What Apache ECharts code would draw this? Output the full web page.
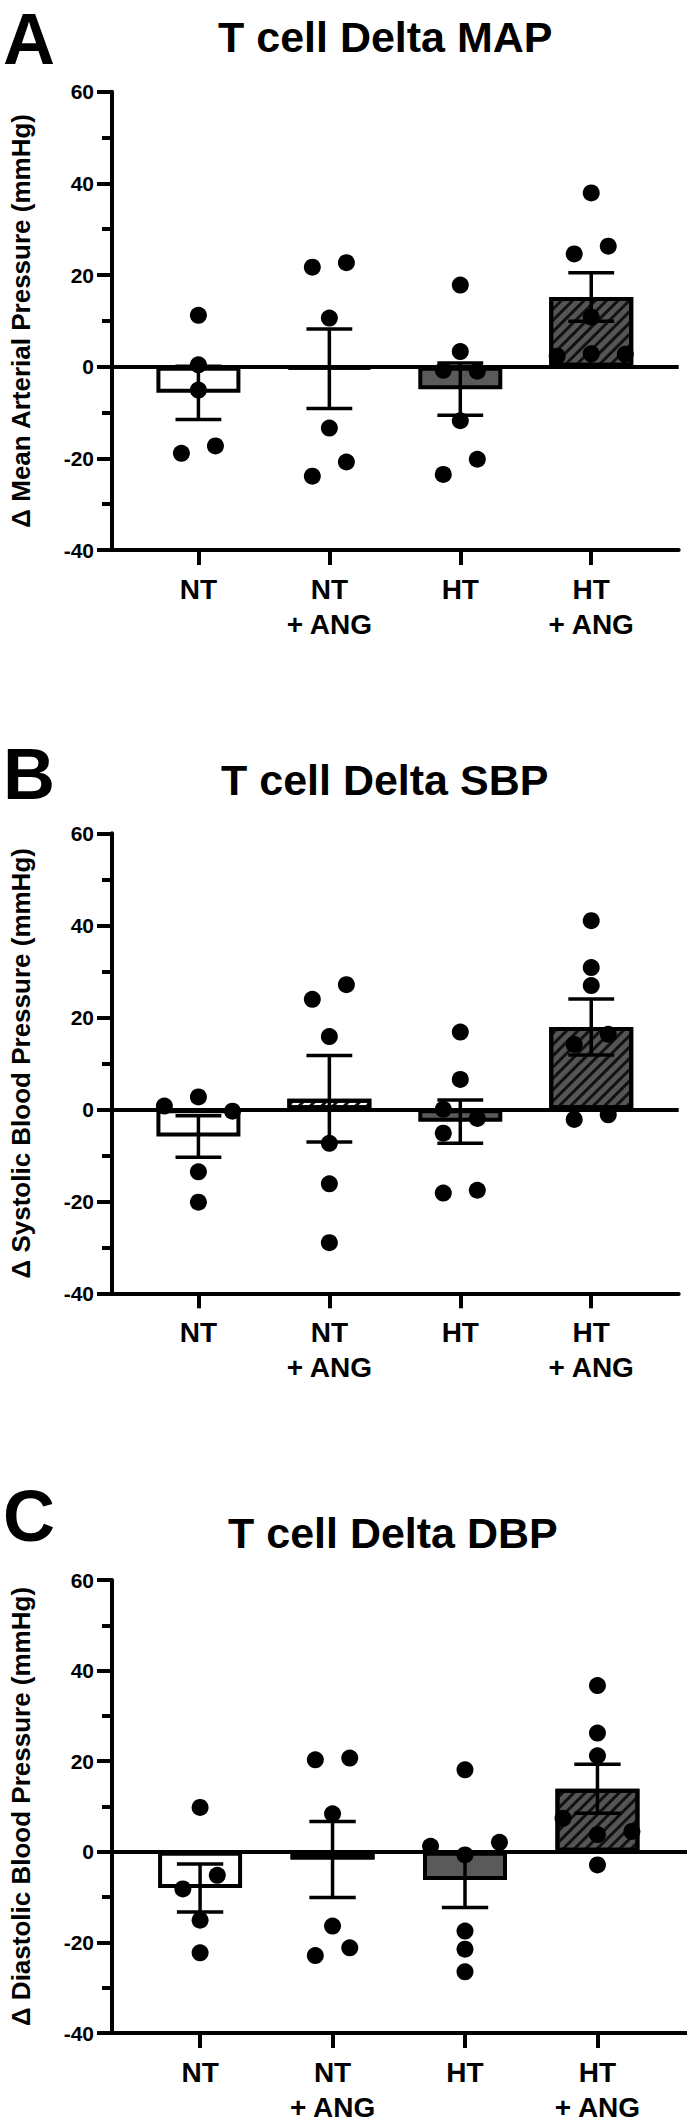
<!DOCTYPE html>
<html><head><meta charset="utf-8">
<script src="https://cdn.jsdelivr.net/npm/echarts@6/dist/echarts.min.js"></script>
<style>html,body{margin:0;padding:0;background:#fff;}#chart{width:687px;height:2125px;}</style>
</head><body><div id="chart"></div>
<script>
// ---------- data ----------
const categories = ['NT', 'NT\n+ ANG', 'HT', 'HT\n+ ANG'];
const panelLetters = ['A', 'B', 'C'];
const panelTitles = ['T cell Delta MAP', 'T cell Delta SBP', 'T cell Delta DBP'];
const yNames = ['\u0394 Mean Arterial Pressure (mmHg)', '\u0394 Systolic Blood Pressure (mmHg)', '\u0394 Diastolic Blood Pressure (mmHg)'];
const yMin = -40, yMax = 60, yStep = 20;

const mapMean = [-5.7, -0.45, -4.9, 15.2];
const mapSem  = [5.8, 8.65, 5.7, 5.3];
const mapNT    = [11.2, 0.4, -5.1, -18.9, -17.3];
const mapNTAng = [21.7, 22.7, 10.6, -13.4, -23.9, -20.8];
const mapHT    = [17.8, 3.3, -0.8, -1.0, -11.8, -23.5, -20.2];
const mapHTAng = [37.9, 24.6, 26.3, 10.8, 2.3, 2.8, 2.7];

const sbpMean = [-5.9, 2.3, -2.7, 17.9];
const sbpSem  = [4.5, 9.4, 4.7, 6.1];
const sbpNT    = [0.7, 2.7, -0.4, -13.6, -20.2];
const sbpNTAng = [23.9, 27.1, 15.8, -7.4, -16.2, -29.0];
const sbpHT    = [16.8, 6.5, 0.0, -2.0, -5.2, -18.2, -17.6];
const sbpHTAng = [41.0, 30.8, 26.9, 14.1, 16.3, -2.2, -1.2];

const dbpMean = [-8.0, -1.7, -6.2, 13.9];
const dbpSem  = [5.3, 8.4, 6.1, 5.4];
const dbpNT    = [9.8, -8.2, -5.2, -15.1, -22.3];
const dbpNTAng = [20.3, 20.7, 8.4, -16.4, -22.9, -21.2];
const dbpHT    = [18.1, 1.2, -0.7, 2.1, -17.5, -21.5, -26.5];
const dbpHTAng = [36.7, 26.2, 21.2, 7.4, 3.8, 4.5, -2.9];

// ---------- layout / style ----------
const FONT = '"Liberation Sans", Arial, Helvetica, sans-serif';
const panels = [
  { mean: mapMean, sem: mapSem, pts: [mapNT, mapNTAng, mapHT, mapHTAng],
    grid: { left: 101.7, top: 91.7, width: 577, height: 458.3 }, xr: [-0.66, 3.668],
    titleX: 218, titleY: 36.8, letterY: 3, letterAlign: 'top' },
  { mean: sbpMean, sem: sbpSem, pts: [sbpNT, sbpNTAng, sbpHT, sbpHTAng],
    grid: { left: 101.7, top: 833.3, width: 577, height: 460 }, xr: [-0.66, 3.668],
    titleX: 221, titleY: 780, letterY: 774, letterAlign: 'middle' },
  { mean: dbpMean, sem: dbpSem, pts: [dbpNT, dbpNTAng, dbpHT, dbpHTAng],
    grid: { left: 108.3, top: 1580, width: 578.7, height: 459.3 }, xr: [-0.665, 3.676],
    titleX: 228, titleY: 1533, letterY: 1516, letterAlign: 'middle' }
];
const barLook = [
  { fill: '#ffffff', hatch: false },
  { fill: '#ffffff', hatch: true },
  { fill: '#5a5a5a', hatch: false },
  { fill: '#555555', hatch: true }
];

// beeswarm-like spreading of overlapping dots (in category units)
function swarm(vals, thr, step) {
  const order = vals.map((v, i) => i).sort((a, b) => vals[b] - vals[a]);
  const off = vals.map(() => 0);
  const flush = c => {
    if (c.length < 2) return;
    const vs = c.map(i => vals[i]);
    const span = Math.max(...vs) - Math.min(...vs);
    if (span < thr) {
      const byIdx = c.slice().sort((a, b) => a - b);
      byIdx.forEach((i, j) => { off[i] = (j - (byIdx.length - 1) / 2) * step; });
    } else {
      c.forEach((i, j) => { off[i] = (j % 2 === 0 ? -0.5 : 0.5) * step; });
    }
  };
  let cl = [order[0]];
  for (let k = 1; k < order.length; k++) {
    const prev = cl[cl.length - 1];
    if (vals[prev] - vals[order[k]] < thr) cl.push(order[k]);
    else { flush(cl); cl = [order[k]]; }
  }
  flush(cl);
  return off;
}

const grids = [], xAxes = [], yAxes = [], series = [], graphics = [];
panels.forEach((p, pi) => {
  grids.push(Object.assign({ containLabel: false }, p.grid));
  xAxes.push({
    type: 'value', gridIndex: pi, min: p.xr[0], max: p.xr[1],
    axisLine: { show: true, onZero: false, lineStyle: { color: '#000', width: 4 } },
    axisTick: { show: true, customValues: [0, 1, 2, 3], length: 15, lineStyle: { color: '#000', width: 4 } },
    axisLabel: { show: true, customValues: [0, 1, 2, 3], formatter: v => categories[Math.round(v)],
      color: '#000', fontFamily: FONT, fontWeight: 'bold', fontSize: 28, lineHeight: 35, margin: 22 },
    splitLine: { show: false }
  });
  yAxes.push({
    type: 'value', gridIndex: pi, min: yMin, max: yMax, interval: yStep,
    name: yNames[pi], nameLocation: 'middle', nameGap: 78, nameRotate: 90,
    nameTextStyle: { color: '#000', fontFamily: FONT, fontWeight: 'bold', fontSize: 26 },
    axisLine: { show: true, onZero: false, lineStyle: { color: '#000', width: 4 } },
    axisTick: { show: true, length: 15, lineStyle: { color: '#000', width: 4 } },
    minorTick: { show: true, splitNumber: 2, length: 10, lineStyle: { color: '#000', width: 4 } },
    axisLabel: { color: '#000', fontFamily: FONT, fontWeight: 'bold', fontSize: 21, margin: 18 },
    splitLine: { show: false }, minorSplitLine: { show: false }
  });
  series.push({
    type: 'bar', xAxisIndex: pi, yAxisIndex: pi, barWidth: 84, z: 2, silent: true,
    data: p.mean.map((m, i) => ({
      value: [i, m],
      itemStyle: Object.assign({ color: barLook[i].fill, borderColor: '#000', borderWidth: 4, opacity: 1 },
        barLook[i].hatch ? { decal: { symbol: 'rect', symbolSize: 1, color: '#111',
          dashArrayX: [1, 0], dashArrayY: [2.5, 5], rotation: -Math.PI / 4 } } : {})
    })),
    markLine: { silent: true, symbol: ['none', 'none'], label: { show: false },
      lineStyle: { color: '#000', width: 4, type: 'solid', opacity: 1 }, data: [{ yAxis: 0 }] }
  });
  series.push({
    type: 'custom', xAxisIndex: pi, yAxisIndex: pi, z: 3, silent: true,
    data: p.mean.map((m, i) => [i, m, p.sem[i]]),
    encode: { x: 0, y: 1 },
    renderItem: (params, api) => {
      const x = api.value(0), m = api.value(1), s = api.value(2);
      const hi = api.coord([x, m + s]), lo = api.coord([x, m - s]);
      const half = api.size([0.175, 0])[0];
      const st = { stroke: '#000', lineWidth: 3.5 };
      return { type: 'group', children: [
        { type: 'line', shape: { x1: hi[0], y1: hi[1], x2: lo[0], y2: lo[1] }, style: st },
        { type: 'line', shape: { x1: hi[0] - half, y1: hi[1], x2: hi[0] + half, y2: hi[1] }, style: st },
        { type: 'line', shape: { x1: lo[0] - half, y1: lo[1], x2: lo[0] + half, y2: lo[1] }, style: st }
      ] };
    }
  });
  const pts = [];
  p.pts.forEach((vals, g) => {
    const off = swarm(vals, 3.75, 0.26);
    vals.forEach((v, i) => pts.push([g + off[i], v]));
  });
  series.push({
    type: 'scatter', xAxisIndex: pi, yAxisIndex: pi, z: 4, silent: true,
    symbol: 'circle', symbolSize: 17, itemStyle: { color: '#000', opacity: 1 }, data: pts
  });
  graphics.push({ type: 'text', x: 3, y: p.letterY, style: { text: panelLetters[pi],
    font: 'bold 72px ' + FONT, fill: '#000', textAlign: 'left', textVerticalAlign: p.letterAlign } });
  graphics.push({ type: 'text', x: p.titleX, y: p.titleY, style: { text: panelTitles[pi],
    font: 'bold 43px ' + FONT, fill: '#000', textAlign: 'left', textVerticalAlign: 'middle' } });
});

const chart = echarts.init(document.getElementById('chart'), null, { renderer: 'svg' });
chart.setOption({
  animation: false,
  backgroundColor: '#fff',
  grid: grids, xAxis: xAxes, yAxis: yAxes, series: series, graphic: graphics
});
</script></body></html>
